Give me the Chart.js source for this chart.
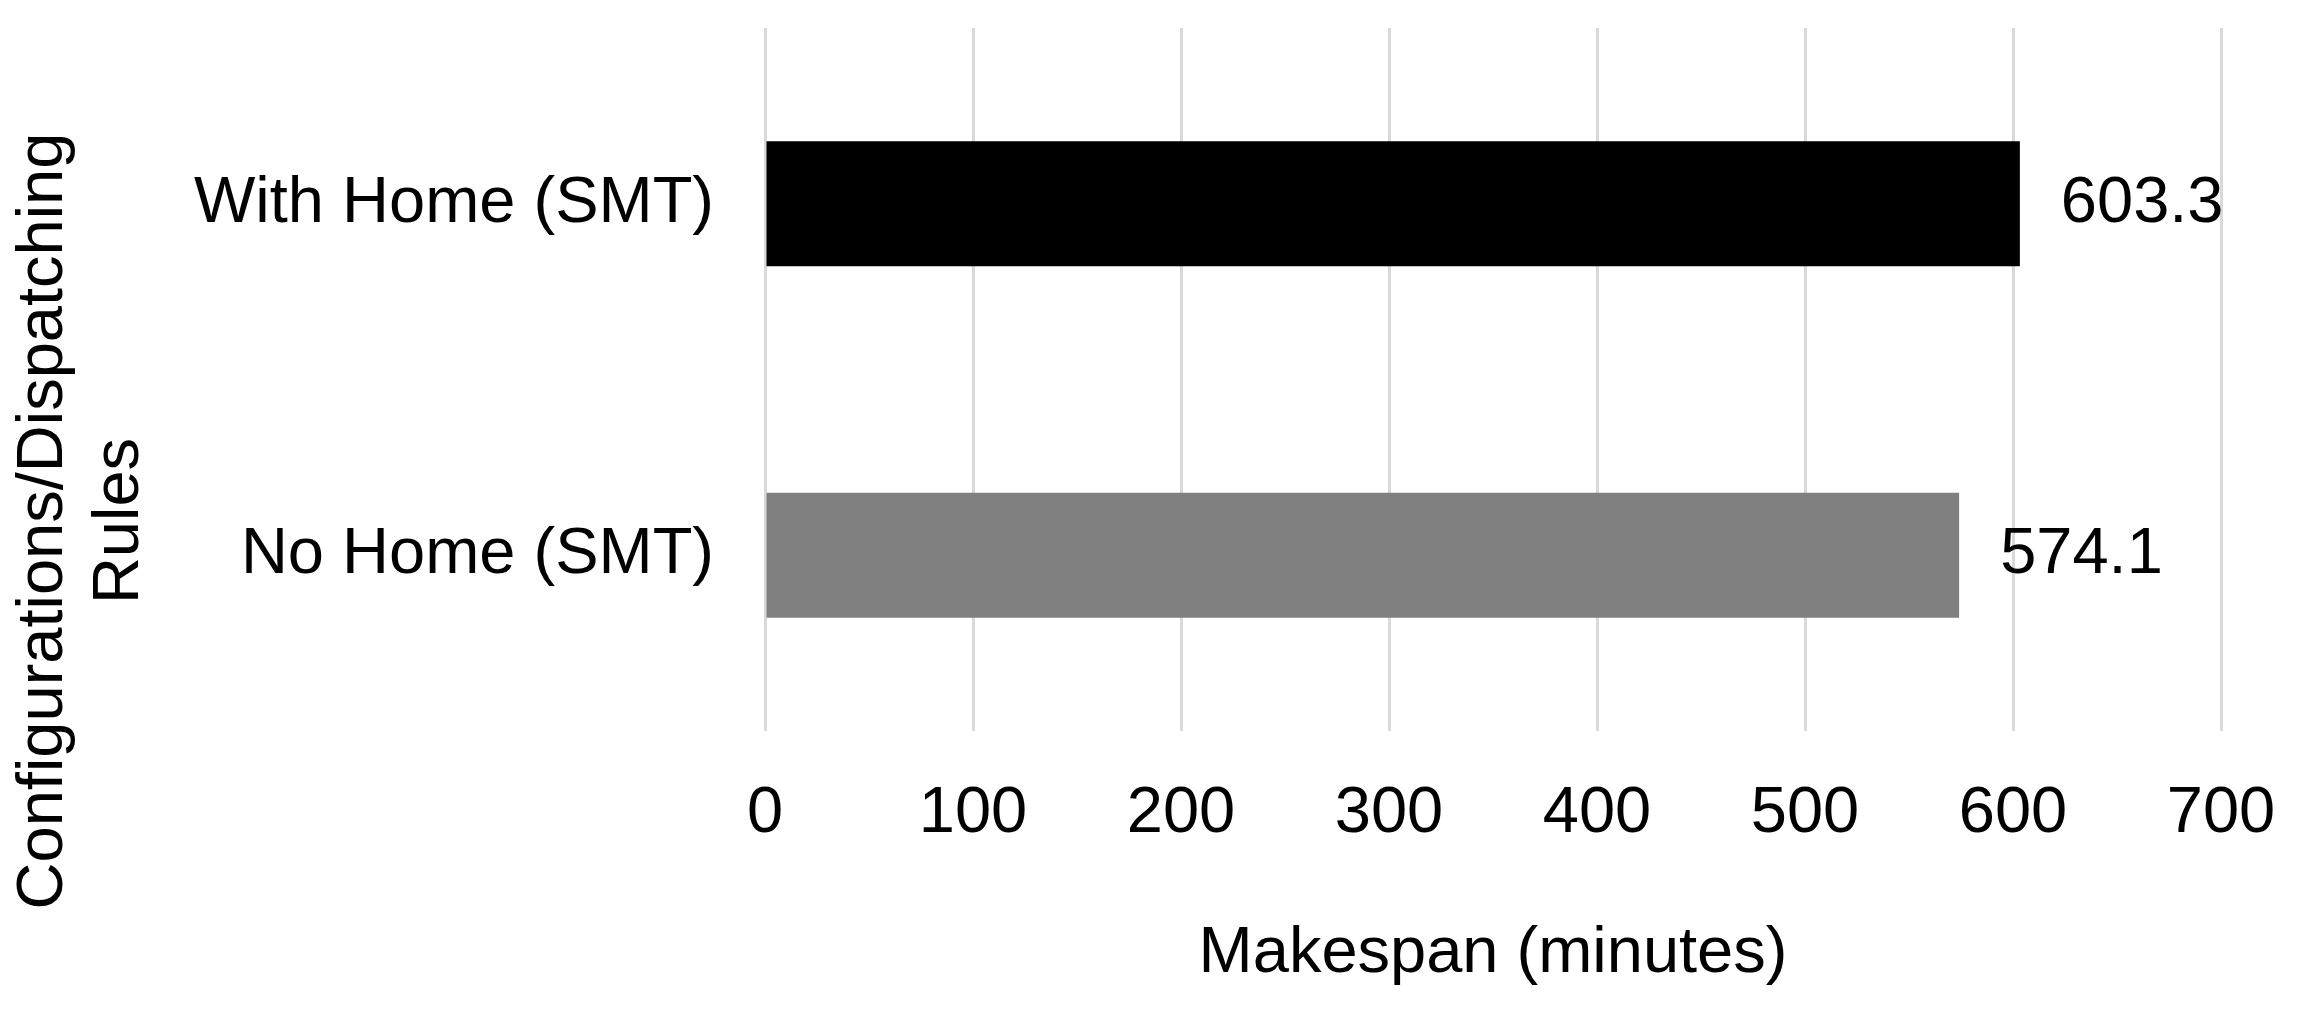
<!DOCTYPE html>
<html>
<head>
<meta charset="utf-8">
<script src="https://cdn.jsdelivr.net/npm/chart.js@4/dist/chart.umd.min.js"></script>
<style>
  html, body { margin: 0; padding: 0; background: #fff; }
  canvas { display: block; }
</style>
</head>
<body>
<canvas id="myChart" width="2308" height="1010"></canvas>
<script>
// datos del grafico
const categories = ["With Home (SMT)", "No Home (SMT)"];
const makespan = [603.3, 574.1];
const barColors = ["#000000", "#808080"];
const xTicks = [0, 100, 200, 300, 400, 500, 600, 700];
const yTitle = ["Configurations/Dispatching", "Rules"];

const fontFamily = "'Liberation Sans', Arial, sans-serif";

// etiquetas de valor al final de cada barra
const valueLabels = {
    id: 'valueLabels',
    afterDatasetsDraw(chart) {
        const ctx = chart.ctx;
        const meta = chart.getDatasetMeta(0);
        ctx.save();
        ctx.font = "65px " + fontFamily;
        ctx.fillStyle = "#000";
        ctx.textAlign = "left";
        ctx.textBaseline = "middle";
        meta.data.forEach((bar, i) => {
            ctx.fillText(makespan[i].toFixed(1), bar.x + 41, bar.y);
        });
        ctx.restore();
    }
};

// titulo del eje y (centrado en el lienzo, no en el area del grafico)
const yAxisTitle = {
    id: 'yAxisTitle',
    afterDraw(chart) {
        const ctx = chart.ctx;
        ctx.save();
        ctx.font = "65px " + fontFamily;
        ctx.fillStyle = "#000";
        ctx.textAlign = "center";
        ctx.textBaseline = "middle";
        ctx.translate(44, 521);
        ctx.rotate(-Math.PI / 2);
        yTitle.forEach((line, i) => {
            ctx.fillText(line, 0, i * 76);
        });
        ctx.restore();
    }
};

let mychart = document.getElementById("myChart").getContext("2d");

var chart = new Chart(mychart, {
    type: "bar",
    data: {
        labels: categories,
        datasets: [{
            data: makespan,
            backgroundColor: barColors,
            borderWidth: 0,
            categoryPercentage: 1,
            barPercentage: 0.356
        }]
    },
    options: {
        indexAxis: 'y',
        responsive: false,
        animation: false,
        layout: { padding: { top: 28, left: 0, right: 0, bottom: 0 } },
        scales: {
            x: {
                min: 0,
                max: 700,
                afterBuildTicks: (scale) => { scale.ticks = xTicks.map(v => ({ value: v })); },
                afterFit: (scale) => {
                    scale.height = 279;
                    scale.paddingLeft = 0;
                    scale.paddingRight = 87;
                },
                grid: { color: '#d9d9d9', lineWidth: 3, drawTicks: false },
                border: { display: false },
                ticks: {
                    color: '#000',
                    padding: 44,
                    font: { family: fontFamily, size: 65 }
                },
                title: {
                    display: true,
                    text: 'Makespan (minutes)',
                    color: '#000',
                    padding: { top: 0, bottom: 17 },
                    font: { family: fontFamily, size: 65 }
                }
            },
            y: {
                afterFit: (scale) => {
                    scale.width = 765;
                    scale.paddingTop = 0;
                    scale.paddingBottom = 0;
                },
                grid: { display: false, drawTicks: false },
                border: { display: false },
                ticks: {
                    color: '#000',
                    padding: 51,
                    font: { family: fontFamily, size: 65 }
                }
            }
        },
        plugins: {
            legend: { display: false },
            tooltip: { enabled: false }
        }
    },
    plugins: [valueLabels, yAxisTitle]
});
</script>
</body>
</html>
